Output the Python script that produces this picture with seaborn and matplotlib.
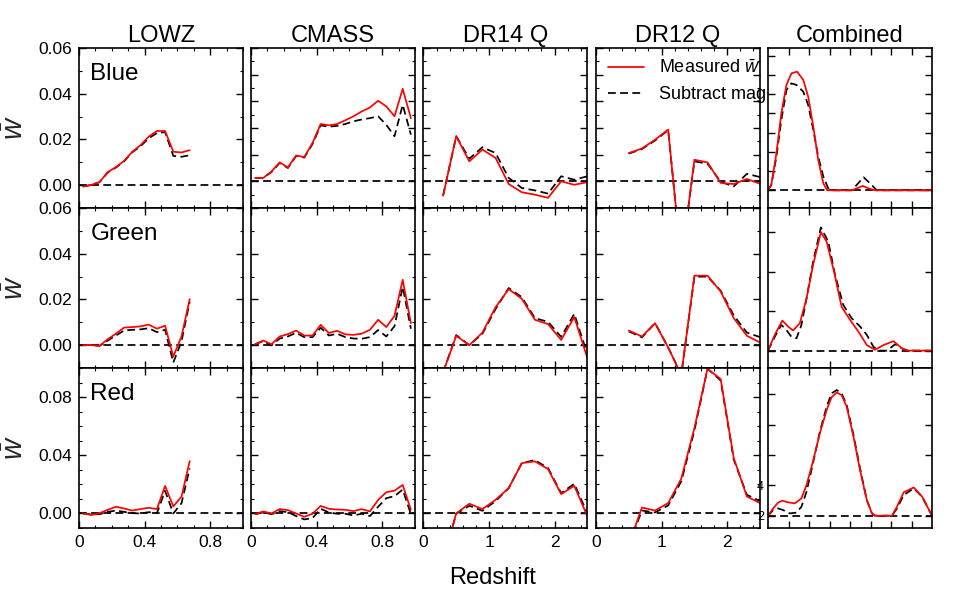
import matplotlib
matplotlib.use("Agg")
import matplotlib.pyplot as plt
import seaborn as sns
import numpy as np
import pandas as pd
from matplotlib.ticker import MultipleLocator, FixedLocator, FixedFormatter, NullLocator

# ---------------- data ----------------
samples = ["LOWZ", "CMASS", "DR14 Q", "DR12 Q", "Combined"]
rows = ["Blue", "Green", "Red"]

lowz_z = [0.025, 0.075, 0.125, 0.175, 0.225, 0.275, 0.325, 0.375, 0.425, 0.475,
          0.525, 0.575, 0.625, 0.675]
cmass_z = [0.025, 0.075, 0.125, 0.175, 0.225, 0.275, 0.325, 0.375, 0.425, 0.475,
           0.525, 0.575, 0.625, 0.675, 0.725, 0.775, 0.825, 0.875, 0.925, 0.975]
dr14_z = [0.3, 0.5, 0.7, 0.9, 1.1, 1.3, 1.5, 1.7, 1.9, 2.1, 2.3, 2.5]
dr12_z = [0.5, 0.7, 0.9, 1.1, 1.3, 1.5, 1.7, 1.9, 2.1, 2.3, 2.5]

# Blue
blue_lowz_meas = [-0.0006, 0.0001, 0.0013, 0.0057, 0.0079, 0.0106, 0.0146, 0.0175, 0.0212, 0.0237,
                  0.0237, 0.0146, 0.0143, 0.0153]
blue_lowz_sub = [-0.0006, 0.0001, 0.0013, 0.0055, 0.0077, 0.0104, 0.0144, 0.0170, 0.0205, 0.0228,
                 0.0232, 0.0128, 0.0124, 0.0131]
blue_cmass_meas = [0.0013, 0.0013, 0.0037, 0.0071, 0.0052, 0.0097, 0.0091, 0.0144, 0.0215, 0.0210,
                   0.0215, 0.0229, 0.0244, 0.0262, 0.0277, 0.0302, 0.0281, 0.0244, 0.0347, 0.0237]
blue_cmass_sub = [0.0013, 0.0013, 0.0035, 0.0069, 0.0050, 0.0095, 0.0089, 0.0140, 0.0210, 0.0205,
                  0.0208, 0.0215, 0.0225, 0.0232, 0.0237, 0.0244, 0.0212, 0.0169, 0.0287, 0.0175]
blue_dr14_meas = [-0.0054, 0.0169, 0.0075, 0.0119, 0.0088, -0.0010, -0.0041, -0.0050, -0.0062, 0.0000,
                  -0.0013, -0.0003]
blue_dr14_sub = [-0.0054, 0.0169, 0.0085, 0.0128, 0.0106, 0.0013, -0.0025, -0.0034, -0.0046, 0.0019,
                 0.0006, 0.0019]
blue_dr12_meas = [0.0106, 0.0123, 0.0156, 0.0194, -0.0300, 0.0081, 0.0071, -0.0006, -0.0010, 0.0009,
                  -0.0009]
blue_dr12_sub = [0.0104, 0.0121, 0.0153, 0.0192, -0.0300, 0.0075, 0.0066, -0.0002, -0.0019, 0.0028,
                 0.0016]

# Green
green_lowz_meas = [0.0, 0.0, -0.0003, 0.0026, 0.0050, 0.0077, 0.0079, 0.0082, 0.0090, 0.0072,
                   0.0085, -0.0050, 0.0038, 0.0201]
green_lowz_sub = [0.0, 0.0, -0.0003, 0.0020, 0.0042, 0.0064, 0.0067, 0.0069, 0.0074, 0.0057,
                  0.0067, -0.0076, 0.0016, 0.0190]
green_cmass_meas = [0.0004, 0.0020, 0.0004, 0.0038, 0.0048, 0.0064, 0.0042, 0.0042, 0.0089, 0.0053,
                    0.0063, 0.0047, 0.0045, 0.0050, 0.0067, 0.0111, 0.0079, 0.0128, 0.0286, 0.0096]
green_cmass_sub = [0.0004, 0.0018, -0.0001, 0.0029, 0.0038, 0.0054, 0.0035, 0.0035, 0.0076, 0.0042,
                   0.0050, 0.0035, 0.0029, 0.0028, 0.0035, 0.0066, 0.0038, 0.0083, 0.0255, 0.0072]
green_dr14_meas = [-0.0120, 0.0041, 0.0000, 0.0055, 0.0166, 0.0245, 0.0203, 0.0111, 0.0092, 0.0023,
                   0.0123, -0.0057]
green_dr14_sub = [-0.0120, 0.0044, 0.0000, 0.0050, 0.0158, 0.0250, 0.0210, 0.0118, 0.0102, 0.0036,
                  0.0137, -0.0040]
green_dr12_meas = [0.0064, 0.0038, 0.0096, -0.0010, -0.0130, 0.0304, 0.0304, 0.0235, 0.0118, 0.0041,
                   0.0012]
green_dr12_sub = [0.0060, 0.0034, 0.0096, -0.0010, -0.0130, 0.0299, 0.0300, 0.0238, 0.0130, 0.0055,
                  0.0035]

# Red
red_lowz_meas = [0.0, -0.0011, 0.0002, 0.0025, 0.0046, 0.0034, 0.0020, 0.0030, 0.0039, 0.0030,
                 0.0189, 0.0048, 0.0116, 0.0360]
red_lowz_sub = [0.0, -0.0007, -0.0005, 0.0011, 0.0020, 0.0011, 0.0002, 0.0000, 0.0009, 0.0002,
                0.0155, 0.0000, 0.0070, 0.0310]
red_cmass_meas = [-0.0005, 0.0014, 0.0000, 0.0030, 0.0023, 0.0000, -0.0023, -0.0002, 0.0052, 0.0032,
                  0.0027, 0.0025, 0.0016, 0.0030, 0.0014, 0.0093, 0.0146, 0.0157, 0.0196, 0.0025]
red_cmass_sub = [-0.0005, 0.0007, -0.0005, 0.0016, 0.0009, -0.0018, -0.0041, -0.0032, 0.0032, 0.0007,
                 -0.0002, -0.0002, -0.0014, -0.0002, -0.0018, 0.0046, 0.0105, 0.0119, 0.0164, -0.0005]
red_dr14_meas = [-0.0330, 0.0000, 0.0067, 0.0030, 0.0094, 0.0174, 0.0346, 0.0358, 0.0305, 0.0133,
                 0.0190, -0.0020]
red_dr14_sub = [-0.0330, -0.0002, 0.0053, 0.0018, 0.0085, 0.0174, 0.0346, 0.0367, 0.0312, 0.0140,
                0.0204, 0.0000]
red_dr12_meas = [-0.0215, 0.0041, 0.0020, 0.0071, 0.0239, 0.0587, 0.0995, 0.0924, 0.0380, 0.0117,
                 0.0071]
red_dr12_sub = [-0.0215, 0.0020, 0.0007, 0.0055, 0.0220, 0.0570, 0.0995, 0.0915, 0.0370, 0.0128,
                0.0085]

# Combined (arbitrary units)
comb_blue_meas_x = [0, 0.16, 0.41, 0.65, 0.90, 1.14, 1.42, 1.72, 1.96, 2.21, 2.45, 2.70, 2.89,
                    4.08, 4.33, 4.62, 4.90, 5.23, 8.0]
comb_blue_meas_y = [0, 0.28, 1.92, 4.00, 5.48, 6.08, 6.17, 5.74, 4.87, 3.31, 1.58, 0.36, 0.0,
                    0.0, 0.10, 0.23, 0.10, 0.0, 0.0]
comb_blue_sub_x = [0, 0.16, 0.41, 0.65, 0.90, 1.14, 1.39, 1.72, 1.96, 2.21, 2.45, 2.70, 2.94, 3.10,
                   4.08, 4.33, 4.66, 4.98, 5.31, 8.0]
comb_blue_sub_y = [0, 0.28, 1.75, 3.66, 5.22, 5.56, 5.48, 5.13, 4.44, 3.14, 1.75, 0.71, 0.10, 0.0,
                   0.0, 0.28, 0.68, 0.36, 0.0, 0.0]

comb_green_meas_x = [0, 0.33, 0.70, 0.98, 1.22, 1.55, 1.88, 2.20, 2.58, 2.86, 3.22, 3.59, 4.00,
                     4.41, 4.82, 5.22, 5.63, 6.12, 6.53, 6.78, 8.0]
comb_green_meas_y = [0, 0.40, 0.76, 0.61, 0.51, 0.69, 1.32, 2.17, 3.00, 2.76, 2.00, 1.11, 0.78,
                     0.48, 0.14, 0.02, 0.14, 0.24, 0.06, 0.0, 0.0]
comb_green_sub_x = [0, 0.33, 0.65, 0.90, 1.14, 1.39, 1.63, 1.88, 2.20, 2.58, 2.94, 3.27, 3.67, 4.08,
                    4.49, 4.82, 5.14, 5.39, 5.80, 6.20, 6.60, 6.86, 8.0]
comb_green_sub_y = [0, 0.35, 0.65, 0.52, 0.35, 0.31, 0.65, 1.32, 2.25, 3.12, 2.76, 1.92, 1.16, 0.82,
                    0.61, 0.40, 0.10, 0.0, 0.0, 0.16, 0.04, 0.0, 0.0]

comb_red_meas_x = [0, 0.25, 0.49, 0.70, 0.98, 1.31, 1.63, 1.88, 2.21, 2.53, 2.86, 3.10, 3.35, 3.59,
                   3.84, 4.17, 4.49, 4.82, 5.07, 5.23, 6.05, 6.29, 6.62, 7.11, 7.52, 8.0]
comb_red_meas_y = [2.0, 2.48, 2.86, 2.99, 2.88, 2.81, 3.14, 4.02, 5.66, 7.42, 8.95, 9.79, 10.11, 9.94,
                   9.17, 7.20, 5.00, 3.03, 2.15, 2.0, 2.0, 2.59, 3.54, 3.86, 3.25, 2.0]
comb_red_sub_x = [0, 0.25, 0.49, 0.74, 1.06, 1.39, 1.63, 1.88, 2.21, 2.53, 2.86, 3.10, 3.35, 3.59,
                  3.84, 4.17, 4.49, 4.82, 5.07, 5.23, 6.05, 6.29, 6.62, 7.11, 7.52, 8.0]
comb_red_sub_y = [2.0, 2.37, 2.48, 2.37, 2.15, 2.20, 2.59, 3.58, 5.55, 7.53, 9.17, 10.05, 10.27, 10.05,
                  9.28, 7.31, 5.11, 3.03, 2.15, 2.0, 2.0, 2.48, 3.36, 3.80, 3.25, 2.0]

comb_baselines = [0.0, 0.0, 2.0]

xs = [lowz_z, cmass_z, dr14_z, dr12_z]
meas = [[blue_lowz_meas, blue_cmass_meas, blue_dr14_meas, blue_dr12_meas],
        [green_lowz_meas, green_cmass_meas, green_dr14_meas, green_dr12_meas],
        [red_lowz_meas, red_cmass_meas, red_dr14_meas, red_dr12_meas]]
subs = [[blue_lowz_sub, blue_cmass_sub, blue_dr14_sub, blue_dr12_sub],
        [green_lowz_sub, green_cmass_sub, green_dr14_sub, green_dr12_sub],
        [red_lowz_sub, red_cmass_sub, red_dr14_sub, red_dr12_sub]]
comb = [[(comb_blue_meas_x, comb_blue_meas_y), (comb_blue_sub_x, comb_blue_sub_y)],
        [(comb_green_meas_x, comb_green_meas_y), (comb_green_sub_x, comb_green_sub_y)],
        [(comb_red_meas_x, comb_red_meas_y), (comb_red_sub_x, comb_red_sub_y)]]

# ---------------- style ----------------
sns.set_style("ticks")
plt.rcParams["font.family"] = ["Liberation Sans", "DejaVu Sans"]
plt.rcParams["mathtext.fontset"] = "custom"
plt.rcParams["mathtext.it"] = "Liberation Sans:italic"
plt.rcParams["mathtext.rm"] = "Liberation Sans"
plt.rcParams["axes.edgecolor"] = "black"
plt.rcParams["axes.linewidth"] = 1.2
plt.rcParams["xtick.color"] = "black"
plt.rcParams["ytick.color"] = "black"
plt.rcParams["xtick.labelsize"] = 12.5
plt.rcParams["ytick.labelsize"] = 12.5
plt.rcParams["text.color"] = "black"

W, H = 956, 598
fig = plt.figure(figsize=(W / 100, H / 100), dpi=100)
fig.patch.set_facecolor("white")

col_left = [79, 251, 423.4, 596, 768]
row_top = [48, 208, 368]
aw, ah = 164, 160

DASH = (0, (4.5, 2.5))
LW = 1.25

def style_ticks(ax):
    ax.tick_params(which="both", direction="in", top=True, right=True, colors="black")
    ax.tick_params(which="major", length=5, width=1.0, labelsize=12.5, pad=5)
    ax.tick_params(which="minor", length=2.5, width=0.8)

ylims = {0: (-0.01, 0.06), 1: (-0.01, 0.06), 2: (-0.01, 0.10)}
comb_ylims = [(-0.92, 7.40), (-0.44, 3.61), (1.19, 11.72)]
comb_yticks = [list(range(0, 8)), [0, 1, 2, 3], [2, 4, 6, 8, 10]]

for r in range(3):
    for c in range(5):
        L, T = col_left[c], row_top[r]
        ax = fig.add_axes([L / W, 1 - (T + ah) / H, aw / W, ah / H])
        ax.set_facecolor("white")
        for s in ax.spines.values():
            s.set_linewidth(1.2)
            s.set_color("black")
        style_ticks(ax)
        if c < 4:
            zz = xs[c]
            sns.lineplot(x=zz, y=subs[r][c], ax=ax, color="black", lw=LW, linestyle=DASH,
                         estimator=None, sort=False, label="Subtract mag bias")
            sns.lineplot(x=zz, y=meas[r][c], ax=ax, color="red", lw=LW,
                         estimator=None, sort=False, label=r"Measured $\bar{w}$")
            ax.axhline(0.0, color="black", lw=LW, linestyle=DASH, zorder=1)
            if c < 2:
                ax.set_xlim(0, 1.0)
                ax.xaxis.set_major_locator(FixedLocator([0, 0.4, 0.8]))
                ax.xaxis.set_major_formatter(FixedFormatter(["0", "0.4", "0.8"]))
                ax.xaxis.set_minor_locator(MultipleLocator(0.1))
            else:
                ax.set_xlim(0, 2.5)
                ax.xaxis.set_major_locator(FixedLocator([0, 1, 2]))
                ax.xaxis.set_major_formatter(FixedFormatter(["0", "1", "2"]))
                ax.xaxis.set_minor_locator(MultipleLocator(0.2))
            if r == 0 and c > 0:
                ax.set_ylim(-0.01, 0.05)
                ax.yaxis.set_major_locator(MultipleLocator(0.01))
                ax.yaxis.set_minor_locator(MultipleLocator(0.005))
            elif r < 2:
                ax.set_ylim(*ylims[r])
                ax.yaxis.set_major_locator(FixedLocator([0.0, 0.02, 0.04, 0.06]))
                ax.yaxis.set_major_formatter(FixedFormatter(["0.00", "0.02", "0.04", "0.06"]))
                ax.yaxis.set_minor_locator(MultipleLocator(0.01))
            else:
                ax.set_ylim(*ylims[r])
                ax.yaxis.set_major_locator(FixedLocator([0.0, 0.04, 0.08]))
                ax.yaxis.set_major_formatter(FixedFormatter(["0.00", "0.04", "0.08"]))
                ax.yaxis.set_minor_locator(MultipleLocator(0.01))
            if r == 0 and c == 3:
                h, l = ax.get_legend_handles_labels()
                ax.legend([h[1], h[0]], [l[1], l[0]], loc="upper left", frameon=False,
                          fontsize=13, handlelength=2.0, handletextpad=0.85,
                          labelspacing=0.5, borderaxespad=0.25)
            else:
                if ax.get_legend() is not None:
                    ax.get_legend().remove()
        else:
            (mx, my), (sx, sy) = comb[r]
            sns.lineplot(x=sx, y=sy, ax=ax, color="black", lw=LW, linestyle=DASH,
                         estimator=None, sort=False)
            sns.lineplot(x=mx, y=my, ax=ax, color="red", lw=LW,
                         estimator=None, sort=False)
            ax.axhline(comb_baselines[r], color="black", lw=LW, linestyle=DASH, zorder=1)
            ax.set_xlim(0, 8)
            ax.set_ylim(*comb_ylims[r])
            ax.xaxis.set_major_locator(FixedLocator([1, 2, 3, 4, 5, 6, 7]))
            ax.xaxis.set_minor_locator(NullLocator())
            ax.yaxis.set_major_locator(FixedLocator(comb_yticks[r]))
            ax.yaxis.set_minor_locator(NullLocator())
            ax.set_xticklabels([])
            if r == 2:
                ax.yaxis.set_major_formatter(FixedFormatter(["2", "4", "", "", ""]))
                ax.tick_params(axis="y", labelsize=9, pad=3)
            else:
                ax.set_yticklabels([])
            ax.set_zorder(5)

        ax.set_xlabel("")
        ax.set_ylabel("")
        if c != 0 and c != 4:
            ax.set_yticklabels([])
        if r != 2 or c == 4:
            ax.set_xticklabels([])
        if r == 0:
            ax.set_title(samples[c], fontsize=17, pad=4)
        if c == 0:
            ax.set_ylabel(r"$\bar{w}$", fontsize=21, labelpad=7)
            ax.text(0.07, 0.80, rows[r], transform=ax.transAxes, fontsize=17.5,
                    va="baseline", ha="left")

fig.text(492.5 / W, 1 - 584 / H, "Redshift", fontsize=17, ha="center", va="baseline")

fig.savefig("out.png", dpi=100, facecolor="white")
